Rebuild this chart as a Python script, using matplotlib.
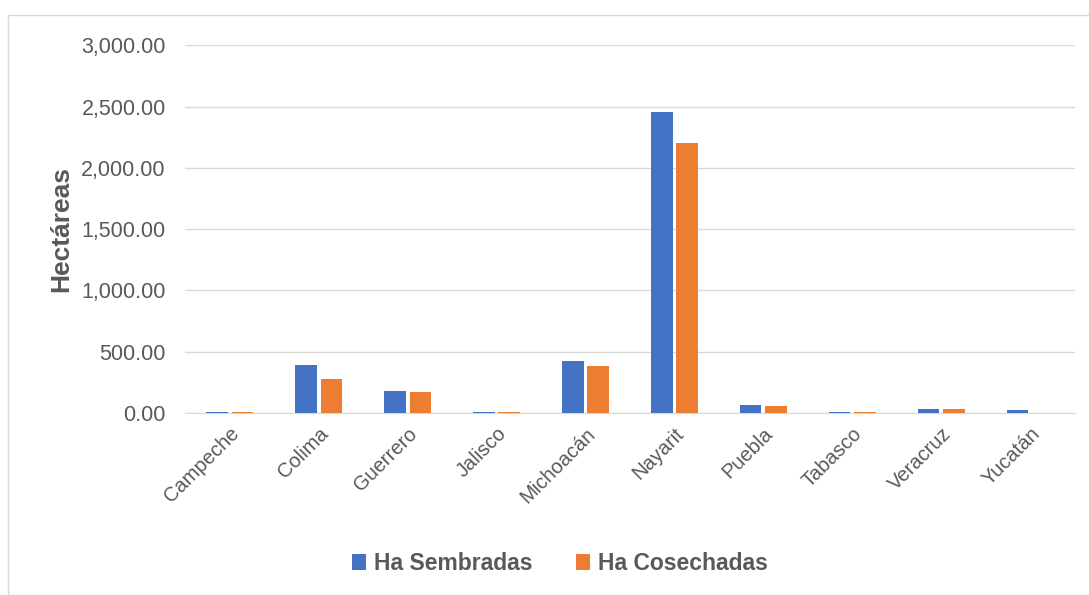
import numpy as np
import matplotlib.pyplot as plt
from matplotlib.patches import Rectangle

estados = ['Campeche', 'Colima', 'Guerrero', 'Jalisco', 'Michoacán',
           'Nayarit', 'Puebla', 'Tabasco', 'Veracruz', 'Yucatán']
sembradas = [5, 391, 179, 5, 424, 2453, 65, 10, 35, 22]
cosechadas = [5, 277, 171, 4, 383, 2200, 57, 8, 33, 1]

plt.rcParams['font.family'] = ['Liberation Sans', 'DejaVu Sans']

fig = plt.figure(figsize=(10.89, 5.95), dpi=100)
ax = fig.add_axes([0.170, 0.306, 0.817, 0.618])

# outer chart border
fig.patches.append(Rectangle((8 / 1089, 0), 1.2, 1 - 15 / 595, transform=fig.transFigure,
                             fill=False, edgecolor='#d9d9d9', linewidth=1))

x = np.arange(len(estados))
w = 0.24
ax.bar(x - w / 2 - 0.022, sembradas, w, color='#4472c4', label='Ha Sembradas', zorder=3)
ax.bar(x + w / 2 + 0.022, cosechadas, w, color='#ed7d31', label='Ha Cosechadas', zorder=3)

ax.set_ylim(0, 3000)
ax.set_xlim(-0.5, len(estados) - 0.5)
ax.set_yticks(np.arange(0, 3001, 500))
ax.set_yticklabels([f'{v:,.2f}' for v in np.arange(0, 3001, 500)])
ax.set_xticks(x)
ax.set_xticklabels(estados, rotation=45, ha='right', rotation_mode='anchor')
ax.tick_params(axis='y', length=0, labelsize=15.5, colors='#595959', pad=14)
ax.tick_params(axis='x', length=0, labelsize=14.5, colors='#595959', pad=8)
ax.grid(axis='y', color='#d9d9d9', linewidth=1, zorder=0)
for s in ['top', 'right', 'left']:
    ax.spines[s].set_visible(False)
ax.spines['bottom'].set_color('#d9d9d9')

ax.set_ylabel('Hectáreas', fontsize=19, fontweight='bold', color='#595959', labelpad=6)

leg = fig.legend(loc='center', bbox_to_anchor=(0.514, 0.053), ncol=2, frameon=False,
                 fontsize=16.5, handlelength=0.6, handleheight=0.7, handletextpad=0.35,
                 columnspacing=1.9)
for t in leg.get_texts():
    t.set_fontweight('bold')
    t.set_color('#595959')

fig.savefig('out.png', dpi=100)
